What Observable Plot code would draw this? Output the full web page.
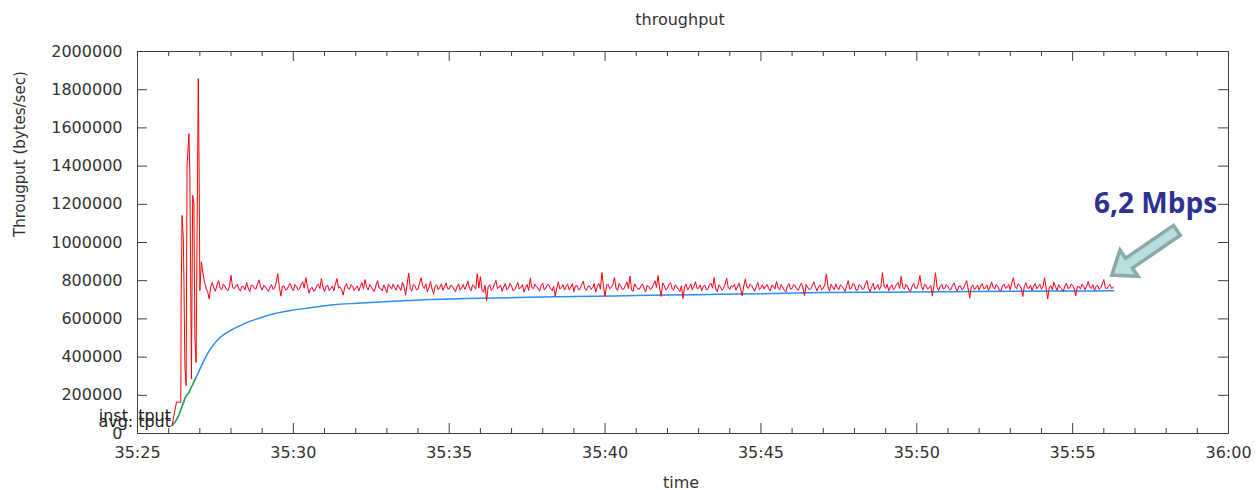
<!DOCTYPE html>
<html><head><meta charset="utf-8">
<script src="https://cdn.jsdelivr.net/npm/d3@7"></script>
<script src="https://cdn.jsdelivr.net/npm/@observablehq/plot@0.6"></script>
<style>body{margin:0;background:#fff} #chart svg{display:block}</style>
</head><body><div id="chart"></div>
<script>
// ---- data (time in seconds after 35:00, throughput in bytes/sec) ----
const burstTime = [26.11, 26.25, 26.39, 26.40, 26.43, 26.47, 26.49, 26.52, 26.56, 26.59, 26.65, 26.68, 26.73, 26.77, 26.81, 26.84, 26.88, 26.95, 26.98, 27.00, 27.05];
const burstTput = [42000, 164000, 164000, 696000, 1141000, 1019000, 801000, 356000, 251000, 1403000, 1569000, 1351000, 286000, 1246000, 1204000, 504000, 373000, 1857000, 1307000, 749000, 897000];
// steady phase: one sample every 0.05 s from 35:27.10, values in thousands of bytes/sec
const steadyStart = 27.1;
const steadyStep = 0.05;
const steadyTputK = [
  838,795,760,742,705,768,790,760,745,778,800,764,752,781,772,755,748,770,827,766,
  758,772,781,758,746,770,769,752,790,762,742,776,775,760,757,783,803,768,751,774,
  768,755,744,766,779,754,761,790,836,768,720,771,772,752,756,774,785,760,749,779,
  770,752,758,780,794,762,815,771,736,757,766,745,752,773,781,760,810,766,743,770,
  776,749,759,771,748,783,810,762,767,752,725,768,784,761,755,779,771,750,762,772,
  747,770,790,758,805,766,752,779,768,753,744,776,800,763,759,747,777,760,738,781,
  769,757,782,764,751,778,764,750,791,769,725,782,839,760,747,781,773,752,756,788,
  815,770,760,782,742,764,795,756,730,771,778,752,766,783,750,769,787,758,757,776,
  771,756,744,768,783,751,762,779,755,772,797,760,748,778,769,757,836,762,820,751,
  740,775,696,768,779,750,758,782,801,758,767,776,745,769,784,753,760,785,772,748,
  753,771,790,757,766,779,741,764,780,750,812,766,757,781,769,760,746,775,786,752,
  761,780,776,758,748,770,719,762,793,757,764,778,752,769,781,752,767,784,743,772,
  774,752,758,781,797,760,750,769,772,755,763,784,741,770,785,757,841,770,718,777,
  781,758,766,779,815,762,749,785,772,756,757,774,793,760,823,751,745,783,768,757,
  756,772,783,760,741,774,770,753,762,780,799,765,826,760,718,788,774,752,759,780,
  789,761,750,778,767,755,744,773,707,769,781,752,765,783,752,771,794,760,761,777,
  748,769,776,752,757,780,785,762,815,758,743,777,770,751,759,781,812,766,755,773,
  768,780,751,770,786,756,722,773,808,767,760,782,774,758,745,770,790,754,763,778,
  757,772,779,759,748,776,771,757,796,764,753,779,766,750,741,772,783,756,760,781,
  772,758,750,772,787,761,722,779,765,754,758,775,793,766,747,770,776,752,761,780,
  835,770,746,781,768,753,782,764,754,777,770,758,744,773,800,756,762,784,779,751,
  751,779,773,755,758,782,800,761,742,768,785,754,766,779,753,770,841,773,760,780,
  747,768,779,753,763,780,790,760,822,765,756,780,771,752,744,771,786,762,759,784,
  826,769,752,781,774,756,765,773,722,775,841,766,748,771,780,757,761,780,769,752,
  755,776,788,760,746,770,772,752,760,781,800,757,710,770,777,753,764,776,751,772,
  784,758,762,777,749,768,793,764,757,780,770,751,745,774,781,760,766,779,752,790,
  815,770,758,783,776,760,718,770,789,762,761,776,747,772,784,758,769,781,756,770,
  815,760,705,766,773,754,791,769,750,778,766,758,744,772,787,760,762,781,776,757,
  722,768,769,757,781,770,753,772,795,766,760,778,748,770,775,756,763,782,805,762,
  758,771,779,760,765
];
const avgTime = [26.11, 26.27, 26.45, 26.55, 26.65, 26.75, 26.87, 27.13, 27.34, 27.66, 27.98, 28.41, 28.84, 29.37, 29.91, 30.55, 31.30, 32.05, 32.90, 33.65, 34.40, 35.04, 36.0, 37.5, 39.0, 41.0, 43.0, 45.0, 47.0, 49.0, 51.0, 53.0, 55.0, 56.31];
const avgTput = [42000, 77000, 150000, 195000, 215000, 250000, 290000, 382000, 443000, 504000, 539000, 574000, 600000, 627000, 644000, 658000, 674000, 682000, 690000, 696000, 702000, 704000, 708000, 713000, 717000, 722000, 727000, 732000, 738000, 740000, 742000, 745000, 746000, 747000];
const greenUntil = 26.87;

const xTicks = [25, 30, 35, 40, 45, 50, 55, 60];
const xTickLabels = ["35:25", "35:30", "35:35", "35:40", "35:45", "35:50", "35:55", "36:00"];
const yTicks = [0, 200000, 400000, 600000, 800000, 1000000, 1200000, 1400000, 1600000, 1800000, 2000000];
const seriesNames = ["inst. tput", "avg. tput"];
const titleText = "throughput";
const xLabel = "time";
const yLabel = "Througput (bytes/sec)";
const noteText = "6,2 Mbps";
const noteAt = {t: 57.66, v: 1152000};
const arrowTail = {t: 58.36, v: 1061000};
const arrowTip = {t: 56.27, v: 827000};

// ---- build ----
const inst = burstTime.map((t, i) => ({t, v: burstTput[i]}))
  .concat(steadyTputK.map((k, i) => ({t: +(steadyStart + i * steadyStep).toFixed(2), v: k * 1000})));
const avg = avgTime.map((t, i) => ({t, v: avgTput[i]}));
const xMinor = d3.range(25, 61).filter(s => s % 5 !== 0);

const W = 1257, H = 490, mL = 137, mR = 29, mT = 51, mB = 57;
const pw = W - mL - mR, ph = H - mT - mB;
const axisColor = "#404040";
const textColor = "#333";

function blockArrow(index, scales) {
  const x0 = scales.x(arrowTail.t), y0 = scales.y(arrowTail.v);
  const x1 = scales.x(arrowTip.t), y1 = scales.y(arrowTip.v);
  const dx = x1 - x0, dy = y1 - y0, L = Math.hypot(dx, dy);
  const ux = dx / L, uy = dy / L, px = -uy, py = ux;
  const sw = 6, hw = 16, hl = 21;
  const bx = x1 - ux * hl, by = y1 - uy * hl;
  const pts = [
    [x0 + px * sw, y0 + py * sw],
    [bx + px * sw, by + py * sw],
    [bx + px * hw, by + py * hw],
    [x1, y1],
    [bx - px * hw, by - py * hw],
    [bx - px * sw, by - py * sw],
    [x0 - px * sw, y0 - py * sw]
  ];
  const g = d3.create("svg:g");
  g.append("polygon")
    .attr("points", pts.map(p => p.join(",")).join(" "))
    .attr("fill", "#b7dfe0")
    .attr("stroke", "#8ca9a8")
    .attr("stroke-width", 3.5)
    .attr("stroke-linejoin", "miter");
  return g.node();
}

const plot = Plot.plot({
  width: W, height: H,
  marginLeft: mL, marginRight: mR, marginTop: mT, marginBottom: mB,
  style: {fontFamily: "'DejaVu Sans', sans-serif", fontSize: "16px", color: textColor, background: "#fff", overflow: "visible"},
  x: {domain: [25, 60]},
  y: {domain: [0, 2000000]},
  marks: [
    Plot.frame({stroke: axisColor, strokeWidth: 1}),
    Plot.tickY(yTicks, {y: d => d, stroke: axisColor, insetRight: pw - 10}),
    Plot.tickY(yTicks, {y: d => d, stroke: axisColor, insetLeft: pw - 10}),
    Plot.tickX(xTicks, {x: d => d, stroke: axisColor, insetTop: ph - 10}),
    Plot.tickX(xTicks, {x: d => d, stroke: axisColor, insetBottom: ph - 10}),
    Plot.tickX(xMinor, {x: d => d, stroke: axisColor, insetTop: ph - 5}),
    Plot.tickX(xMinor, {x: d => d, stroke: axisColor, insetBottom: ph - 5}),
    Plot.axisY(yTicks, {tickSize: 0, tickPadding: 15, tickFormat: d3.format("d"), label: null, fontSize: 16}),
    Plot.axisX(xTicks, {tickSize: 0, tickPadding: 13, tickFormat: d => xTickLabels[xTicks.indexOf(d)], label: null, fontSize: 16}),
    Plot.line(avg, {x: "t", y: "v", stroke: "#2a8ff0", strokeWidth: 1.5, curve: "monotone-x"}),
    Plot.line(avg.filter(d => d.t <= greenUntil), {x: "t", y: "v", stroke: "#22b422", strokeWidth: 1.3, curve: "monotone-x"}),
    Plot.line(inst, {x: "t", y: "v", stroke: "#ff0000", strokeWidth: 1}),
    Plot.dot(inst, {x: "t", y: "v", r: 0.8, fill: "#c040ff", fillOpacity: 0.5, stroke: null}),
    Plot.text([seriesNames[0]], {text: d => d, frameAnchor: "bottom-left", textAnchor: "end", lineAnchor: "bottom", dx: 33.5, dy: -13, fontSize: 16, fill: "#222"}),
    Plot.text([seriesNames[1]], {text: d => d, frameAnchor: "bottom-left", textAnchor: "end", lineAnchor: "bottom", dx: 33.5, dy: -7, fontSize: 16, fill: "#222"}),
    Plot.text([titleText], {text: d => d, frameAnchor: "top", lineAnchor: "bottom", dx: -3, dy: -27, fontSize: 16}),
    Plot.text([xLabel], {text: d => d, frameAnchor: "bottom", lineAnchor: "bottom", dx: -2, dy: 54, fontSize: 16}),
    Plot.text([yLabel], {text: d => d, frameAnchor: "left", rotate: -90, lineAnchor: "bottom", dx: 24.5 - mL, dy: -5.5, fontSize: 15}),
    blockArrow,
    Plot.text([noteText], {x: () => noteAt.t, y: () => noteAt.v, text: d => d, lineAnchor: "bottom", textAnchor: "middle", fontFamily: "'Open Sans', sans-serif", fontWeight: 700, fontSize: 28, fill: "#2e3192"})
  ]
});
document.getElementById("chart").append(plot);
</script></body></html>
